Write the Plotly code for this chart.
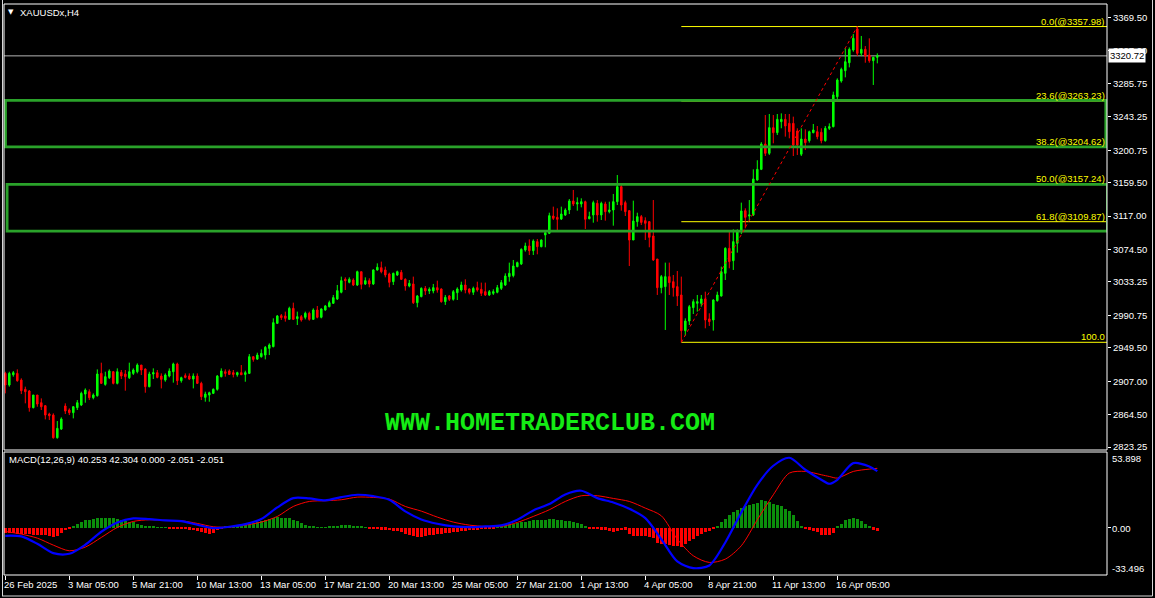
import plotly.graph_objects as go

# ---------------- DATA ----------------
opens = [2917.0, 2902.2, 2915.3, 2917.0, 2908.5, 2896.7, 2894.6, 2873.4, 2889.5, 2879.7,
         2875.9, 2865.3, 2864.0, 2835.2, 2846.2, 2875.5, 2870.4, 2867.0, 2873.4, 2876.8,
         2890.7, 2893.7, 2886.1, 2888.6, 2917.0, 2903.0, 2911.5, 2919.1, 2904.3, 2918.3,
         2916.2, 2911.5, 2917.0, 2919.1, 2927.6, 2922.5, 2900.1, 2916.2, 2917.9, 2913.6,
         2908.5, 2913.6, 2919.1, 2928.9, 2907.7, 2914.1, 2913.6, 2909.8, 2913.6, 2904.3,
         2886.5, 2889.5, 2891.6, 2896.7, 2912.8, 2919.1, 2920.0, 2917.9, 2915.3, 2917.9,
         2915.7, 2917.0, 2938.2, 2935.2, 2938.2, 2940.3, 2948.8, 2951.0, 2980.6, 2990.4,
         2990.0, 2985.7, 2999.7, 2986.6, 2989.1, 2988.3, 2993.4, 2985.7, 2997.6, 2988.3,
         2997.6, 3001.8, 3006.1, 3011.6, 3020.1, 3036.6, 3032.8, 3035.7, 3029.4, 3046.3,
         3030.7, 3034.9, 3030.7, 3048.5, 3051.4, 3048.5, 3043.4, 3033.6, 3042.1, 3045.5,
         3036.6, 3028.1, 3030.7, 3006.9, 3014.6, 3025.1, 3021.8, 3021.8, 3026.0, 3024.3,
         3008.2, 3015.4, 3011.2, 3019.6, 3023.0, 3029.4, 3024.3, 3020.1, 3026.0, 3023.9,
         3020.9, 3016.7, 3018.8, 3020.1, 3025.1, 3029.4, 3040.0, 3041.3, 3052.7, 3056.1,
         3073.9, 3079.0, 3073.0, 3084.5, 3078.1, 3093.0, 3095.1, 3117.1, 3115.4, 3113.3,
         3118.4, 3124.7, 3136.2, 3132.4, 3132.4, 3135.3, 3113.7, 3118.4, 3133.2, 3118.4,
         3132.4, 3122.6, 3124.7, 3135.3, 3154.4, 3134.1, 3123.9, 3086.6, 3109.9, 3116.3,
         3111.2, 3109.9, 3091.7, 3062.4, 3026.0, 3027.3, 3040.0, 3033.6, 3027.3, 3016.7,
         2971.3, 2983.6, 3000.6, 3006.1, 3006.1, 3011.6, 2986.2, 2984.9, 3009.5, 3015.4,
         3044.2, 3076.0, 3060.3, 3082.4, 3099.3, 3123.9, 3117.1, 3118.4, 3162.9, 3176.4,
         3208.6, 3196.8, 3229.4, 3223.1, 3237.1, 3240.0, 3234.9, 3234.9, 3225.2, 3195.7,
         3215.0, 3212.9, 3223.1, 3224.3, 3223.5, 3212.9, 3228.6, 3230.7, 3268.8, 3288.7,
         3301.9, 3312.0, 3328.2, 3355.0, 3324.0, 3329.0, 3321.8, 3314.6, 3318.8]
highs = [2919.1, 2919.1, 2920.0, 2922.1, 2910.7, 2900.1, 2895.8, 2889.5, 2889.5, 2885.2,
         2876.8, 2867.0, 2866.2, 2856.4, 2861.1, 2878.9, 2872.5, 2875.5, 2883.1, 2893.7,
         2897.9, 2896.7, 2891.6, 2922.1, 2930.6, 2919.1, 2922.1, 2920.0, 2923.4, 2921.3,
         2921.3, 2930.6, 2923.4, 2929.7, 2927.6, 2923.4, 2919.1, 2923.4, 2921.3, 2917.0,
         2917.0, 2923.4, 2930.6, 2930.6, 2912.8, 2917.0, 2917.0, 2917.0, 2917.0, 2906.4,
         2893.7, 2893.7, 2897.9, 2914.9, 2923.4, 2922.1, 2922.1, 2921.3, 2919.1, 2927.6,
         2920.4, 2941.6, 2939.1, 2943.3, 2947.5, 2951.8, 2955.2, 2987.0, 2991.2, 2992.5,
         2995.5, 3001.8, 3006.9, 2995.5, 2991.2, 2995.5, 2995.5, 2999.7, 3002.7, 2999.7,
         3004.0, 3009.5, 3016.7, 3029.4, 3040.0, 3039.1, 3039.1, 3037.9, 3047.6, 3046.3,
         3039.1, 3037.9, 3049.3, 3056.9, 3059.1, 3052.7, 3045.1, 3045.1, 3047.6, 3048.5,
         3037.9, 3035.7, 3040.0, 3016.7, 3026.4, 3028.1, 3026.4, 3030.7, 3034.9, 3025.1,
         3016.7, 3016.7, 3023.0, 3026.4, 3033.6, 3036.6, 3025.1, 3027.3, 3033.6, 3032.4,
         3032.4, 3023.0, 3023.9, 3029.4, 3035.7, 3044.2, 3057.8, 3061.2, 3059.1, 3076.0,
         3083.2, 3087.4, 3087.4, 3087.9, 3087.4, 3096.0, 3121.3, 3129.0, 3126.9, 3129.0,
         3126.9, 3138.7, 3150.2, 3140.8, 3139.6, 3136.6, 3122.6, 3136.6, 3137.4, 3135.3,
         3135.3, 3135.3, 3145.1, 3169.2, 3156.5, 3136.6, 3124.7, 3136.6, 3121.3, 3118.4,
         3115.4, 3110.7, 3137.4, 3062.4, 3042.1, 3057.8, 3057.8, 3042.1, 3047.2, 3040.0,
         2987.0, 3004.0, 3011.2, 3016.7, 3016.7, 3020.9, 2993.4, 3011.2, 3020.9, 3052.7,
         3077.3, 3099.3, 3100.2, 3100.2, 3134.1, 3126.9, 3137.4, 3176.4, 3188.0, 3211.0,
         3245.5, 3246.8, 3245.5, 3246.8, 3247.6, 3246.8, 3246.8, 3243.4, 3228.6, 3228.6,
         3227.3, 3225.6, 3234.1, 3231.5, 3228.6, 3231.5, 3234.9, 3275.2, 3292.1, 3305.7,
         3330.3, 3331.5, 3348.5, 3357.98, 3346.0, 3333.2, 3343.0, 3319.7, 3323.9]
lows = [2891.6, 2900.1, 2912.8, 2906.4, 2890.7, 2878.9, 2868.3, 2872.5, 2874.6, 2870.4,
        2858.5, 2857.7, 2834.0, 2834.0, 2845.0, 2865.3, 2864.0, 2859.8, 2870.4, 2875.5,
        2879.7, 2883.1, 2884.0, 2887.4, 2903.5, 2901.3, 2909.8, 2903.0, 2903.0, 2909.8,
        2895.0, 2909.8, 2914.9, 2917.0, 2914.9, 2892.4, 2899.2, 2909.8, 2910.7, 2897.9,
        2906.4, 2911.9, 2905.2, 2902.2, 2905.2, 2910.7, 2908.5, 2897.9, 2903.5, 2883.1,
        2881.0, 2881.0, 2890.7, 2895.0, 2911.9, 2912.8, 2914.9, 2911.9, 2912.8, 2914.9,
        2906.4, 2916.2, 2931.9, 2934.0, 2937.0, 2934.8, 2940.3, 2950.1, 2979.8, 2984.9,
        2982.8, 2984.9, 2984.9, 2978.5, 2982.8, 2985.7, 2984.0, 2984.9, 2987.0, 2987.0,
        2996.7, 3001.0, 3005.2, 3010.3, 3018.8, 3023.0, 3031.5, 3028.1, 3028.1, 3023.9,
        3029.4, 3026.4, 3029.4, 3047.6, 3044.2, 3039.1, 3026.4, 3029.4, 3040.8, 3035.7,
        3022.2, 3026.4, 3005.2, 3001.0, 3013.7, 3016.7, 3017.9, 3018.8, 3019.6, 3006.9,
        3004.0, 3009.0, 3009.5, 3010.3, 3020.9, 3018.8, 3017.5, 3016.7, 3020.9, 3015.4,
        3015.4, 3015.4, 3016.7, 3018.8, 3023.0, 3028.1, 3033.6, 3039.1, 3051.9, 3054.8,
        3071.8, 3067.5, 3067.5, 3068.4, 3077.3, 3077.3, 3094.2, 3112.0, 3099.3, 3112.0,
        3117.1, 3119.6, 3129.8, 3123.9, 3128.1, 3100.6, 3112.9, 3108.6, 3109.9, 3112.0,
        3111.2, 3120.5, 3104.8, 3131.1, 3123.9, 3117.1, 3053.5, 3086.6, 3103.5, 3105.7,
        3086.6, 3077.3, 3060.0, 3016.7, 3018.8, 2972.2, 3016.7, 3014.6, 3002.7, 2956.5,
        2965.0, 2978.5, 2992.5, 2995.5, 3001.8, 2974.3, 2977.3, 2971.3, 3008.2, 3014.6,
        3035.7, 3050.6, 3048.5, 3070.5, 3094.2, 3101.4, 3111.2, 3117.1, 3162.0, 3175.5,
        3193.4, 3194.7, 3209.5, 3220.1, 3228.6, 3218.0, 3215.9, 3193.4, 3194.7, 3193.4,
        3201.0, 3210.4, 3222.2, 3214.6, 3209.5, 3211.6, 3226.5, 3229.8, 3264.6, 3286.6,
        3293.4, 3306.1, 3326.0, 3320.5, 3320.5, 3312.0, 3312.0, 3283.7, 3311.2]
closes = [2902.2, 2917.0, 2917.9, 2907.7, 2895.0, 2893.7, 2873.4, 2889.5, 2878.0, 2874.6,
          2864.0, 2863.2, 2835.2, 2847.1, 2859.0, 2869.1, 2867.0, 2874.6, 2879.7, 2891.6,
          2895.8, 2886.1, 2889.5, 2916.2, 2904.3, 2912.8, 2920.0, 2904.3, 2919.1, 2913.6,
          2912.8, 2919.1, 2921.3, 2927.6, 2921.3, 2900.1, 2916.2, 2917.9, 2911.9, 2909.4,
          2914.9, 2920.0, 2928.9, 2907.7, 2911.5, 2911.9, 2909.8, 2913.6, 2904.3, 2887.4,
          2890.7, 2892.4, 2896.7, 2913.6, 2920.0, 2917.0, 2915.7, 2915.7, 2917.9, 2915.3,
          2917.9, 2938.2, 2934.8, 2940.3, 2942.4, 2950.1, 2953.1, 2981.5, 2990.0, 2987.9,
          2987.0, 2999.7, 2985.7, 2989.1, 2984.9, 2993.4, 2985.7, 2997.6, 2988.3, 2998.9,
          3002.7, 3006.9, 3013.3, 3022.2, 3034.9, 3034.9, 3036.6, 3029.4, 3046.3, 3030.2,
          3034.9, 3030.7, 3048.5, 3051.9, 3046.3, 3042.1, 3032.8, 3044.2, 3046.3, 3036.6,
          3028.1, 3031.5, 3006.9, 3015.4, 3025.1, 3021.8, 3023.9, 3026.0, 3023.0, 3008.2,
          3013.7, 3011.2, 3020.9, 3024.3, 3029.4, 3023.0, 3020.1, 3025.1, 3023.0, 3018.8,
          3016.7, 3020.9, 3020.9, 3026.0, 3032.4, 3040.8, 3044.2, 3053.5, 3057.8, 3074.7,
          3079.0, 3073.0, 3085.3, 3078.1, 3086.6, 3095.9, 3117.5, 3114.1, 3112.9, 3119.6,
          3124.7, 3136.2, 3132.4, 3134.1, 3135.3, 3112.9, 3116.3, 3134.1, 3118.4, 3133.2,
          3122.6, 3124.7, 3135.3, 3154.4, 3131.1, 3122.6, 3086.6, 3110.7, 3116.3, 3109.0,
          3107.8, 3090.0, 3061.2, 3026.0, 3040.0, 3040.0, 3032.4, 3026.0, 3015.4, 2971.3,
          2983.6, 3001.8, 3008.2, 3008.2, 3011.6, 2984.9, 2982.8, 3010.3, 3016.7, 3046.3,
          3076.0, 3059.1, 3084.5, 3097.2, 3123.5, 3115.4, 3118.4, 3164.1, 3176.4, 3208.6,
          3196.8, 3229.4, 3223.1, 3240.0, 3240.0, 3231.5, 3224.3, 3207.4, 3207.4, 3215.0,
          3210.4, 3224.3, 3226.5, 3218.0, 3212.9, 3228.6, 3230.7, 3271.0, 3290.0, 3303.6,
          3313.3, 3329.0, 3343.0, 3323.9, 3329.0, 3320.5, 3314.6, 3318.8, 3320.72]

macd_idx = [0, 4, 8, 12, 16, 20, 24, 28, 32, 36, 40, 44, 48, 52, 56, 60, 64, 68, 72, 76,
            80, 84, 88, 92, 96, 100, 104, 108, 112, 116, 120, 124, 128, 132, 136, 140, 144,
            148, 152, 156, 160, 164, 168, 172, 176, 180, 184, 188, 192, 196, 200, 204, 206,
            208, 212, 216, 218]
macd_main = [-5.63, -6.10, -11.31, -17.95, -18.42, -12.02, -2.78, 3.85, 6.69, 6.22, 5.27,
             4.80, 2.19, -0.18, 0.77, 2.66, 6.22, 14.51, 21.14, 20.91, 19.48, 21.85, 23.51,
             22.56, 19.96, 11.67, 5.98, 2.90, 1.01, 0.53, 1.01, 1.72, 5.74, 12.38, 16.88,
             23.75, 26.35, 21.14, 18.06, 13.56, 6.93, -7.99, -23.87, -28.61, -26.71, -10.37,
             10.96, 30.62, 44.12, 49.81, 41.28, 34.17, 31.33, 34.17, 46.02, 43.65, 40.253]
macd_signal = [-2.55, -4.44, -7.29, -12.26, -16.29, -13.68, -6.81, 0.30, 4.56, 5.74, 5.27,
               5.03, 3.14, 0.77, 0.53, 1.95, 4.09, 8.11, 15.22, 18.77, 19.25, 19.96, 21.85,
               21.62, 20.43, 15.22, 11.90, 7.64, 4.09, 1.95, 1.01, 1.01, 3.85, 8.11, 12.85,
               18.77, 22.80, 22.80, 20.91, 18.77, 14.04, 8.59, -7.99, -19.84, -24.58, -22.21,
               -12.73, 5.74, 23.51, 38.91, 40.10, 37.73, 36.50, 35.36, 40.10, 41.75, 42.304]
macd_hist = [-3.55, -3.55, -3.55, -4.03, -4.26, -4.50, -4.50, -4.74, -4.74, -4.97,
             -5.21, -5.69, -6.16, -5.92, -3.55, -1.66, -0.24, 1.66, 3.08, 4.50,
             5.45, 5.92, 6.40, 7.11, 7.34, 7.34, 7.11, 6.87, 6.40, 5.69,
             4.97, 4.50, 4.03, 3.08, 2.13, 1.42, 0.95, 0.71, 0.47, 0.24,
             0.12, -0.24, -0.47, -0.71, -0.71, -0.71, -1.18, -1.42, -2.13, -3.08,
             -3.79, -4.03, -3.55, -1.66, -0.24, 0.71, 1.42, 1.66, 1.66, 1.90,
             2.13, 3.08, 3.55, 4.50, 5.21, 5.92, 6.63, 7.34, 7.58, 7.34,
             7.34, 6.87, 5.92, 4.74, 3.55, 2.37, 1.66, 0.95, 0.47, 0.24,
             0.24, 0.71, 0.95, 1.42, 1.90, 1.90, 1.90, 1.66, 1.42, 0.71,
             0.05, -0.71, -0.71, -0.71, -1.18, -1.18, -1.66, -2.13, -2.13, -3.08,
             -4.03, -4.74, -5.92, -6.63, -6.40, -5.45, -5.21, -4.97, -4.50, -4.03,
             -3.79, -3.55, -3.08, -2.61, -2.37, -1.90, -1.42, -1.18, -1.18, -0.95,
             -0.95, -0.71, -0.47, 0.24, 1.18, 1.90, 2.61, 3.08, 3.55, 4.03,
             4.50, 5.21, 5.69, 5.69, 5.45, 5.69, 6.63, 6.40, 5.92, 5.45,
             4.97, 4.74, 4.26, 3.79, 2.84, 1.18, -0.47, -0.71, -0.71, -1.18,
             -1.18, -1.90, -2.61, -2.13, -1.66, -1.18, -4.26, -5.45, -5.92, -5.92,
             -5.92, -6.40, -7.34, -10.66, -11.13, -11.13, -12.08, -12.56, -13.03, -13.50,
             -11.13, -9.48, -7.82, -5.92, -4.26, -2.84, -1.90, -0.71, 1.66, 4.03,
             6.40, 9.24, 11.13, 13.03, 14.21, 15.40, 16.35, 17.29, 17.77, 19.66,
             18.95, 18.24, 17.29, 16.35, 15.40, 13.74, 11.85, 9.48, 4.74, 0.71,
             -0.71, -1.18, -1.90, -2.61, -4.74, -5.21, -5.21, -3.55, 0.71, 3.08,
             5.45, 6.40, 6.87, 6.40, 4.74, 3.08, 0.71, -1.18, -2.051]

date_label_idx = [0, 16, 32, 48, 64, 80, 96, 112, 128, 144, 160, 176, 192, 208]
date_labels = ["26 Feb 2025", "3 Mar 05:00", "5 Mar 21:00", "10 Mar 13:00", "13 Mar 05:00",
               "17 Mar 21:00", "20 Mar 13:00", "25 Mar 05:00", "27 Mar 21:00", "1 Apr 13:00",
               "4 Apr 05:00", "8 Apr 21:00", "11 Apr 13:00", "16 Apr 05:00"]
price_ticks = [3369.50, 3327.00, 3285.75, 3243.25, 3200.75, 3159.50, 3117.00, 3074.50,
               3033.25, 2990.75, 2949.50, 2907.00, 2864.50, 2823.25]
macd_axis_labels = [53.898, 0.0, -33.496]

fib_levels = [0.0, 23.6, 38.2, 50.0, 61.8, 100.0]
fib_high, fib_low = 3357.98, 2956.505
fib_high_idx, fib_low_idx = 213, 169
last_price = 3320.72
zones = [(3205.0, 3264.0), (3098.0, 3157.2)]
symbol_title = "XAUUSDx,H4"
macd_title = "MACD(12,26,9) 40.253 42.304 0.000 -2.051 -2.051"
watermark = "WWW.HOMETRADERCLUB.COM"

# ---------------- FIGURE ----------------
W, H = 1155, 598
L, R, T, B = 4, 1107, 4, 575          # plot area in pixels
main_bottom_px, macd_top_px = 450, 452
idx = list(range(len(closes)))
FONT = "Liberation Sans"
TXT = dict(family=FONT, size=9.5, color="white")


def pxx(px):
    return (px - L) / (R - L)


def pxy(py):
    return (B - py) / (B - T)


fig = go.Figure()
fig.add_trace(go.Candlestick(
    x=idx, open=opens, high=highs, low=lows, close=closes,
    increasing=dict(line=dict(color="#00ff00", width=1), fillcolor="#00ff00"),
    decreasing=dict(line=dict(color="#ff0000", width=1), fillcolor="#ff0000"),
    whiskerwidth=0, hoverinfo="skip", xaxis="x", yaxis="y"))

fig.add_trace(go.Bar(
    x=idx, y=macd_hist, width=0.75,
    marker=dict(color=["#0b8f0b" if v >= 0 else "#ff0000" for v in macd_hist], line=dict(width=0)),
    hoverinfo="skip", xaxis="x", yaxis="y2"))
fig.add_trace(go.Scatter(x=macd_idx, y=macd_signal, mode="lines",
                         line=dict(color="#ff0000", width=1, shape="spline", smoothing=0.8),
                         hoverinfo="skip", xaxis="x", yaxis="y2"))
fig.add_trace(go.Scatter(x=macd_idx, y=macd_main, mode="lines",
                         line=dict(color="#0000ff", width=2.2, shape="spline", smoothing=0.8),
                         hoverinfo="skip", xaxis="x", yaxis="y2"))

x_lo = (L - 5.3) / 4.0
x_hi = (R - 5.3) / 4.0
y_top = 3369.5 + (17.5 - T) * 1.2715
y_bot = 3369.5 - (main_bottom_px - 17.5) * 1.2715

shapes = []
# bid line
shapes.append(dict(type="line", xref="paper", yref="y", x0=0, x1=1, y0=last_price, y1=last_price,
                   line=dict(color="#b4b4b4", width=1), layer="below"))
# fibonacci lines
fib_prices = [fib_high - lv / 100.0 * (fib_high - fib_low) for lv in fib_levels]
for lv, p in zip(fib_levels, fib_prices):
    shapes.append(dict(type="line", xref="x", yref="y", x0=fib_low_idx, x1=x_hi, y0=p, y1=p,
                       line=dict(color="#ffff00", width=1), layer="below"))
# zones (green rectangles), drawn over the fib lines
zone_left = [0.05, 0.45]
zone_right = [x_hi - 0.3, x_hi + 0.1]
for (lo, hi), xl, xr in zip(zones, zone_left, zone_right):
    shapes.append(dict(type="rect", xref="x", yref="y", x0=xl, x1=xr, y0=lo, y1=hi,
                       line=dict(color="#2aa22a", width=2.8), fillcolor="rgba(0,0,0,0)", layer="above"))
# fib trend line
shapes.append(dict(type="line", xref="x", yref="y", x0=fib_low_idx, y0=fib_low, x1=fib_high_idx, y1=fib_high,
                   line=dict(color="#ff0000", width=1, dash="dot"), layer="above"))
# panel borders
for y0p, y1p in [(T, main_bottom_px), (macd_top_px, B)]:
    shapes.append(dict(type="rect", xref="paper", yref="paper", x0=pxx(L), x1=pxx(R),
                       y0=pxy(y1p), y1=pxy(y0p), line=dict(color="white", width=1),
                       fillcolor="rgba(0,0,0,0)", layer="above"))
# outer window frame
shapes.append(dict(type="line", xref="paper", yref="paper", x0=pxx(2), x1=pxx(1152.5), y0=pxy(596), y1=pxy(596),
                   line=dict(color="#d8d8d8", width=1)))
shapes.append(dict(type="line", xref="paper", yref="paper", x0=pxx(1152.5), x1=pxx(1152.5), y0=pxy(596), y1=pxy(0),
                   line=dict(color="#d8d8d8", width=1)))
shapes.append(dict(type="line", xref="paper", yref="paper", x0=pxx(2.5), x1=pxx(2.5), y0=pxy(596), y1=pxy(0),
                   line=dict(color="#d8d8d8", width=1)))

annotations = []
# fib labels
for lv, p in zip(fib_levels, fib_prices):
    txt = f"{lv:.1f}" if lv == 100.0 else f"{lv:.1f}(@{p:.2f})"
    annotations.append(dict(text=txt, xref="paper", yref="y", x=pxx(1106), y=p, xanchor="right",
                            yanchor="bottom", showarrow=False, yshift=-1,
                            font=dict(family=FONT, size=9.5, color="#ffff00"), borderpad=0))
# last price box
annotations.append(dict(text=f"{last_price:.2f}", xref="paper", yref="y", x=pxx(1108), y=last_price,
                        xanchor="left", yanchor="middle", showarrow=False, bgcolor="white",
                        font=dict(family=FONT, size=9.5, color="black"), borderpad=1))
# date labels
for i, lab in zip(date_label_idx, date_labels):
    annotations.append(dict(text=lab, xref="x", yref="paper", x=i, y=pxy(584), xanchor="left",
                            yanchor="middle", showarrow=False, xshift=-2, font=TXT, borderpad=0))
# macd axis labels
macd_label_px = [458, 528, 568]
for v, py in zip(macd_axis_labels, macd_label_px):
    annotations.append(dict(text=(f"{v:.2f}" if v == 0 else f"{v:.3f}"), xref="paper", yref="paper",
                            x=pxx(1111), y=pxy(py), xanchor="left", yanchor="middle", showarrow=False,
                            font=TXT, borderpad=0))
# titles
annotations.append(dict(text=symbol_title, xref="paper", yref="paper", x=pxx(19), y=pxy(12.5),
                        xanchor="left", yanchor="middle", showarrow=False, font=TXT, borderpad=0))
annotations.append(dict(text="▼", xref="paper", yref="paper", x=pxx(7), y=pxy(12.5),
                        xanchor="left", yanchor="middle", showarrow=False,
                        font=dict(family="DejaVu Sans", size=7, color="white"), borderpad=0))
annotations.append(dict(text=macd_title, xref="paper", yref="paper", x=pxx(8), y=pxy(459.5),
                        xanchor="left", yanchor="middle", showarrow=False, font=TXT, borderpad=0))
# watermark
annotations.append(dict(text=f"<b>{watermark}</b>", xref="paper", yref="paper", x=pxx(550), y=pxy(423),
                        xanchor="center", yanchor="middle", showarrow=False,
                        font=dict(family="Liberation Mono", size=25, color="#14ec14")))

fig.update_layout(
    width=W, height=H, autosize=False,
    margin=dict(l=L, r=W - R, t=T, b=H - B, pad=0),
    paper_bgcolor="black", plot_bgcolor="black",
    showlegend=False, hovermode=False, bargap=0, boxgap=0.45,
    xaxis=dict(domain=[0, 1], anchor="y2", range=[x_lo, x_hi], showgrid=False, zeroline=False,
               tickmode="array", tickvals=date_label_idx, ticks="outside", ticklen=4,
               tickcolor="white", showticklabels=False, rangeslider=dict(visible=False),
               showline=False),
    yaxis=dict(domain=[pxy(main_bottom_px), 1], anchor="x", side="right", range=[y_bot, y_top],
               showgrid=False, zeroline=False, tickmode="array", tickvals=price_ticks,
               ticktext=[f"{p:.2f}" for p in price_ticks], ticks="outside", ticklen=3,
               tickcolor="white", tickfont=TXT, showline=False),
    yaxis2=dict(domain=[0, pxy(macd_top_px)], anchor="x", side="right", range=[-33.496, 53.898],
                showgrid=False, zeroline=False, tickmode="array", tickvals=[0], ticks="outside",
                ticklen=3, tickcolor="white", showticklabels=False, showline=False),
    shapes=shapes, annotations=annotations,
)

fig.write_html("out.html", config={"displayModeBar": False},
               post_script="document.body.style.margin='0';document.body.style.padding='0';"
                           "document.body.style.overflow='hidden';document.body.style.background='black';")
